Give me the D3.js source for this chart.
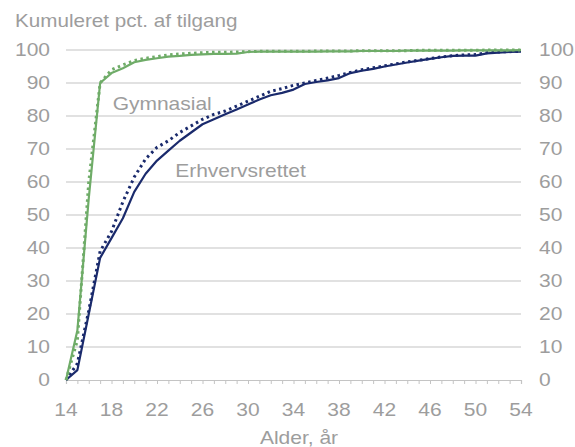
<!DOCTYPE html>
<html><head><meta charset="utf-8">
<script src="https://cdn.jsdelivr.net/npm/d3@7"></script>
<style>body{margin:0;background:#fff}svg{display:block;font-family:"Liberation Sans",Arial,sans-serif}</style>
</head><body><svg id="c" width="575" height="447"></svg>
<script>
const ages = d3.range(14, 55);
const gymSolid = [0,15,55,90,93,94.5,96.3,97,97.5,98,98.2,98.5,98.7,98.8,98.8,98.9,99.4,99.5,99.5,99.5,99.5,99.5,99.5,99.6,99.6,99.6,99.7,99.7,99.7,99.7,99.8,99.8,99.8,99.8,99.8,99.9,99.9,99.9,99.9,99.9,100];
const gymDot   = [0,12,60,90,94,95.5,96.8,97.5,98,98.5,98.8,99,99.2,99.3,99.3,99.4,99.5,99.6,99.6,99.6,99.6,99.6,99.7,99.7,99.7,99.7,99.8,99.8,99.8,99.8,99.8,99.9,99.9,99.9,99.9,99.9,99.9,100,100,100,100];
const erhSolid = [0,3,20,37,43,49,57,62.5,66.5,69.5,72.5,75,77.5,79,80.5,82,83.5,85,86.3,87,88,89.7,90.3,90.8,91.5,93,93.7,94.3,95,95.6,96.2,96.8,97.3,97.8,98.2,98.3,98.3,99,99.2,99.4,99.5];
const erhDot   = [0,5,21,39,45,54,61.5,67,70.5,72.5,75,77,79,80.5,81.5,83,84.5,86,87.5,88.3,89.3,90,90.8,91.5,92.3,93.2,94,94.6,95.2,95.8,96.4,96.9,97.4,97.9,98.3,98.5,98.6,99.2,99.4,99.5,99.6];
const yTicks = d3.range(0, 101, 10);
const xTicks = d3.range(14, 55, 4);
const titleText = "Kumuleret pct. af tilgang";
const xTitle = "Alder, år";
const labels = [{t:"Gymnasial", age:18.1, v:81.7}, {t:"Erhvervsrettet", age:23.6, v:61.5}];

const green = "#6fac68", navy = "#1a2a6c", grey = "#9d9d9d";
const FS = 17.5, SX = 1.2;
const svg = d3.select("#c");
const x = d3.scaleLinear().domain([14,54]).range([66,521]);
const y = d3.scaleLinear().domain([0,100]).range([380,50]);

function txt(g, tx, ty, s, anchor, sx){
  return g.append("text").attr("transform",`translate(${tx},${ty}) scale(${sx||SX},1)`)
    .attr("text-anchor",anchor||"start").attr("font-size",FS).attr("fill",grey).text(s);
}

// gridlines
svg.append("g").selectAll("line").data(yTicks.filter(d=>d>0)).join("line")
  .attr("x1",x(14)).attr("x2",x(54)).attr("y1",d=>y(d)).attr("y2",d=>y(d))
  .attr("stroke","#c4c4c4").attr("stroke-width",1.2);

// x axis
const xa = svg.append("g").attr("transform",`translate(0,${y(0)})`)
  .call(d3.axisBottom(x).tickValues(ages).tickSize(4).tickFormat(""));
xa.select(".domain").attr("stroke","#c4c4c4").attr("stroke-width",1.2);
xa.selectAll(".tick line").attr("stroke","#c4c4c4");
const gx = svg.append("g");
xTicks.forEach(d => txt(gx, x(d), 416, d, "middle"));

// y labels left & right
const gy = svg.append("g");
yTicks.forEach(d => { txt(gy, 50, y(d)+6.3, d, "end"); txt(gy, 539, y(d)+6.3, d, "start"); });

// titles
txt(svg, 15, 27, titleText, "start", 1.18);
txt(svg, 299, 444, xTitle, "middle");

// lines
const line = d3.line().x((d,i)=>x(ages[i])).y(d=>y(d));
function draw(data,color,dotted){
  const p = svg.append("path").datum(data).attr("d",line).attr("fill","none")
    .attr("stroke",color).attr("stroke-linejoin","round");
  if(dotted) p.attr("stroke-width",3).attr("stroke-dasharray","2.5,3.5");
  else p.attr("stroke-width",2.2);
}
draw(erhDot,navy,true);
draw(erhSolid,navy,false);
draw(gymDot,green,true);
draw(gymSolid,green,false);

// series labels
const gl = svg.append("g");
labels.forEach(d => txt(gl, x(d.age), y(d.v), d.t, "start"));
</script></body></html>
